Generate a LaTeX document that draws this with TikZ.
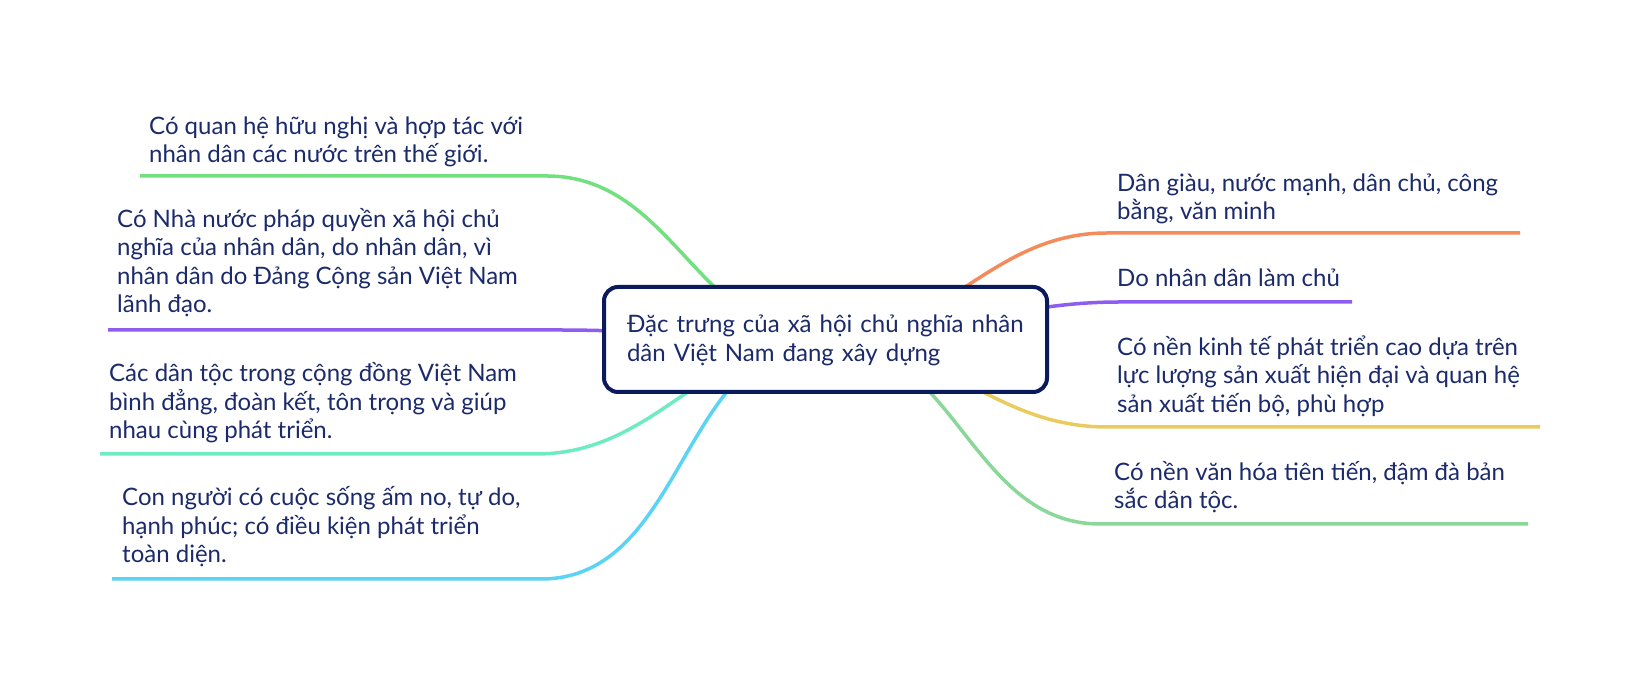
\documentclass[tikz,border=0pt]{standalone}
\usepackage{fontspec}
\setmainfont{Lato}
\usetikzlibrary{backgrounds}
\definecolor{inkblue}{HTML}{1B2A6B}
\definecolor{hubblue}{HTML}{0A1A5C}
\definecolor{brgreen}{HTML}{72E07E}
\definecolor{brpurple}{HTML}{8E5CEF}
\definecolor{brteal}{HTML}{6EEBC2}
\definecolor{brcyan}{HTML}{5BD3F5}
\definecolor{brorange}{HTML}{F58A5B}
\definecolor{bryellow}{HTML}{EACB5E}
\definecolor{brmint}{HTML}{8BD79A}

\begin{document}
\begin{tikzpicture}[x=1pt, y=1pt,
    every node/.style={inner sep=0pt, text=inkblue, font=\fontsize{24}{28.5}\selectfont},
    hub/.style={draw=hubblue, line width=4pt, rounded corners=14pt, fill=white,
      minimum width=443pt, minimum height=105pt, inner xsep=23pt, text width=397pt,
      align=left, text height=21pt, text depth=34pt},
    leaf/.style={anchor=south west, align=left, text depth=0pt},
    branch/.style={line width=3.5pt}]
    \useasboundingbox (0,0) rectangle (1648,692);

    % Nodes
    \node[hub] (hub) at (825.5,352.5) {Đặc trưng của xã hội chủ nghĩa nhân\\dân Việt Nam đang xây dựng};
    \node[leaf] (quocte) at (149,529) {Có quan hệ hữu nghị và hợp tác với\\nhân dân các nước trên thế giới.};
    \node[leaf] (nhanuoc) at (117,379) {Có Nhà nước pháp quyền xã hội chủ\\nghĩa của nhân dân, do nhân dân, vì\\nhân dân do Đảng Cộng sản Việt Nam\\lãnh đạo.};
    \node[leaf] (dantoc) at (109,253) {Các dân tộc trong cộng đồng Việt Nam\\bình đẳng, đoàn kết, tôn trọng và giúp\\nhau cùng phát triển.};
    \node[leaf] (connguoi) at (122,129) {Con người có cuộc sống ấm no, tự do,\\hạnh phúc; có điều kiện phát triển\\toàn diện.};
    \node[leaf] (muctieu) at (1117,472) {Dân giàu, nước mạnh, dân chủ, công\\bằng, văn minh};
    \node[leaf] (lamchu) at (1117,405) {Do nhân dân làm chủ};
    \node[leaf] (kinhte) at (1117,279.5) {Có nền kinh tế phát triển cao dựa trên\\lực lượng sản xuất hiện đại và quan hệ\\sản xuất tiến bộ, phù hợp};
    \node[leaf] (vanhoa) at (1114,183) {Có nền văn hóa tiên tiến, đậm đà bản\\sắc dân tộc.};

    % Underline ends
    \coordinate (quocte-a) at (547,516);
    \coordinate (quocte-b) at (140,516);
    \coordinate (nhanuoc-a) at (557,362);
    \coordinate (nhanuoc-b) at (108,362);
    \coordinate (dantoc-a) at (536,238);
    \coordinate (dantoc-b) at (100,238);
    \coordinate (connguoi-a) at (541,113);
    \coordinate (connguoi-b) at (112,113);
    \coordinate (muctieu-a) at (1107,459);
    \coordinate (muctieu-b) at (1520,459);
    \coordinate (lamchu-a) at (1120,390);
    \coordinate (lamchu-b) at (1352,390);
    \coordinate (kinhte-a) at (1107,265);
    \coordinate (kinhte-b) at (1540,265);
    \coordinate (vanhoa-a) at (1100,168);
    \coordinate (vanhoa-b) at (1528,168);

    % Edges
    \begin{scope}[on background layer]
      \draw[branch, brgreen] (hub.center) to[out=180, in=0] (quocte-a) -- (quocte-b);
      \draw[branch, brpurple] (hub.center) to[out=180, in=0] (nhanuoc-a) -- (nhanuoc-b);
      \draw[branch, brteal] (hub.center) to[out=180, in=0] (dantoc-a) -- (dantoc-b);
      \draw[branch, brcyan] (hub.center) to[out=180, in=0] (connguoi-a) -- (connguoi-b);
      \draw[branch, brorange] (hub.center) to[out=0, in=180] (muctieu-a) -- (muctieu-b);
      \draw[branch, brpurple] (hub.center) to[out=0, in=180] (lamchu-a) -- (lamchu-b);
      \draw[branch, bryellow] (hub.center) to[out=0, in=180] (kinhte-a) -- (kinhte-b);
      \draw[branch, brmint] (hub.center) to[out=0, in=180] (vanhoa-a) -- (vanhoa-b);
    \end{scope}
\end{tikzpicture}
\end{document}
